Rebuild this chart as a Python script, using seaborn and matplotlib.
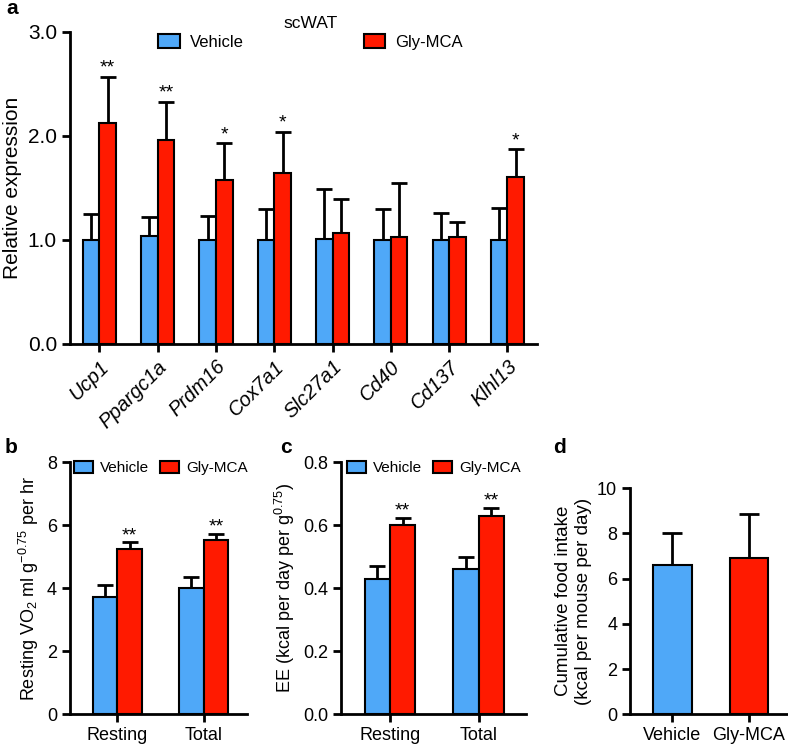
import numpy as np
import pandas as pd
import matplotlib
matplotlib.use("Agg")
import matplotlib.pyplot as plt
import seaborn as sns

# Data
genes = ["Ucp1", "Ppargc1a", "Prdm16", "Cox7a1", "Slc27a1", "Cd40", "Cd137", "Klhl13"]
groups = ["Vehicle", "Gly-MCA"]

a_vehicle = [1.0, 1.04, 1.0, 1.0, 1.01, 1.0, 1.0, 1.0]
a_vehicle_sem = [0.25, 0.18, 0.23, 0.30, 0.48, 0.30, 0.26, 0.31]
a_gly = [2.12, 1.96, 1.58, 1.64, 1.07, 1.03, 1.03, 1.60]
a_gly_sem = [0.45, 0.37, 0.35, 0.40, 0.32, 0.52, 0.14, 0.27]
a_stars = ["**", "**", "*", "*", "", "", "", "*"]

bc_labels = ["Resting", "Total"]
b_vehicle = [3.72, 4.0]
b_vehicle_sem = [0.38, 0.35]
b_gly = [5.25, 5.52]
b_gly_sem = [0.20, 0.21]
b_stars = ["**", "**"]

c_vehicle = [0.43, 0.46]
c_vehicle_sem = [0.04, 0.04]
c_gly = [0.60, 0.63]
c_gly_sem = [0.022, 0.025]
c_stars = ["**", "**"]

d_values = [6.6, 6.9]
d_sem = [1.4, 1.95]

# Style
sns.set_style("ticks")
plt.rcParams["font.family"] = ["Liberation Sans", "DejaVu Sans"]
plt.rcParams["mathtext.fontset"] = "custom"
plt.rcParams["mathtext.rm"] = "Liberation Sans"
plt.rcParams["mathtext.it"] = "Liberation Sans:italic"
for k in ["text.color", "axes.labelcolor", "xtick.color", "ytick.color", "axes.edgecolor"]:
    plt.rcParams[k] = "black"
BLUE = "#4FA8F8"
RED = "#FF1A00"
palette = {"Vehicle": BLUE, "Gly-MCA": RED}


def long_df(cats, v, g):
    return pd.DataFrame({
        "cat": list(cats) * 2,
        "group": ["Vehicle"] * len(cats) + ["Gly-MCA"] * len(cats),
        "value": list(v) + list(g),
    })


def style_ax(ax, size=13, lw=2):
    sns.despine(ax=ax)
    for s in ["left", "bottom"]:
        ax.spines[s].set_linewidth(lw)
    ax.tick_params(width=lw, length=6, direction="out", labelsize=size)


def add_err(ax, sems, stars=None, offset=0.0):
    for i, (cont, sem) in enumerate(zip(ax.containers, sems)):
        for j, (bar, e) in enumerate(zip(cont, sem)):
            x = bar.get_x() + bar.get_width() / 2
            h = bar.get_height()
            ax.errorbar(x, h, yerr=[[0], [e]], fmt="none", ecolor="black",
                        elinewidth=2, capsize=6, capthick=2, zorder=1)
            if stars is not None and i == 1 and stars[j]:
                ax.text(x, h + e + offset, stars[j], ha="center", va="bottom",
                        fontsize=14)


def small_legend(ax, x_px, y_px):
    ax.legend(ncol=2, frameon=False, loc="center left",
              bbox_to_anchor=(x_px / 788, 1 - y_px / 744), bbox_transform=fig.transFigure,
              fontsize=11, handlelength=1.25, handleheight=0.8, columnspacing=0.7,
              handletextpad=0.45, borderpad=0, borderaxespad=0)


fig = plt.figure(figsize=(7.88, 7.44), dpi=100)

# Panel a
ax_a = fig.add_axes([0.089, 0.538, 0.592, 0.419])
sns.barplot(data=long_df(genes, a_vehicle, a_gly), x="cat", y="value", hue="group",
            palette=palette, saturation=1, width=0.57, errorbar=None, edgecolor="black",
            linewidth=1.5, ax=ax_a, zorder=2)
add_err(ax_a, [a_vehicle_sem, a_gly_sem], a_stars, offset=0.0)
ax_a.set_xlim(-0.5, 7.5)
ax_a.set_ylim(0, 3.0)
ax_a.set_yticks([0, 1, 2, 3])
ax_a.set_yticklabels(["0.0", "1.0", "2.0", "3.0"])
ax_a.set_xlabel("")
ax_a.set_ylabel("Relative expression", fontsize=15)
style_ax(ax_a, size=15)
for lab in ax_a.get_xticklabels():
    lab.set_rotation(45)
    lab.set_ha("right")
    lab.set_rotation_mode("anchor")
    lab.set_style("italic")
    lab.set_fontsize(14.5)
ax_a.legend(title="scWAT", ncol=2, frameon=False, loc="upper left",
            bbox_to_anchor=(158 / 788, 1 - 16 / 744), bbox_transform=fig.transFigure,
            columnspacing=7.2, fontsize=12, title_fontsize=12.5, handlelength=1.3,
            handleheight=0.85, handletextpad=0.6, borderpad=0, borderaxespad=0,
            labelspacing=0.2)

# Panel b
ax_b = fig.add_axes([0.089, 0.040, 0.224, 0.339])
sns.barplot(data=long_df(bc_labels, b_vehicle, b_gly), x="cat", y="value", hue="group",
            palette=palette, saturation=1, width=0.57, errorbar=None, edgecolor="black",
            linewidth=1.5, ax=ax_b, zorder=2)
add_err(ax_b, [b_vehicle_sem, b_gly_sem], b_stars, offset=-0.05)
ax_b.set_xlim(-0.55, 1.5)
ax_b.set_ylim(0, 8)
ax_b.set_yticks([0, 2, 4, 6, 8])
ax_b.set_xlabel("")
ax_b.set_ylabel(r"Resting VO$_2$ ml g$^{-0.75}$ per hr", fontsize=13)
style_ax(ax_b)
small_legend(ax_b, 74, 468)

# Panel c
ax_c = fig.add_axes([0.433, 0.040, 0.234, 0.339])
sns.barplot(data=long_df(bc_labels, c_vehicle, c_gly), x="cat", y="value", hue="group",
            palette=palette, saturation=1, width=0.57, errorbar=None, edgecolor="black",
            linewidth=1.5, ax=ax_c, zorder=2)
add_err(ax_c, [c_vehicle_sem, c_gly_sem], c_stars, offset=-0.005)
ax_c.set_xlim(-0.55, 1.53)
ax_c.set_ylim(0, 0.8)
ax_c.set_yticks([0, 0.2, 0.4, 0.6, 0.8])
ax_c.set_yticklabels(["0.0", "0.2", "0.4", "0.6", "0.8"])
ax_c.set_xlabel("")
ax_c.set_ylabel(r"EE (kcal per day per g$^{0.75}$)", fontsize=13)
style_ax(ax_c)
small_legend(ax_c, 347, 468)

# Panel d
ax_d = fig.add_axes([0.800, 0.040, 0.199, 0.304])
df_d = pd.DataFrame({"group": groups, "value": d_values})
sns.barplot(data=df_d, x="group", y="value", hue="group", palette=palette, saturation=1,
            width=0.5, errorbar=None, edgecolor="black", linewidth=1.5,
            ax=ax_d, zorder=2, legend=False)
for cont, e in zip(ax_d.containers, d_sem):
    for bar in cont:
        x = bar.get_x() + bar.get_width() / 2
        ax_d.errorbar(x, bar.get_height(), yerr=[[0], [e]], fmt="none",
                      ecolor="black", elinewidth=2, capsize=7, capthick=2, zorder=1)
ax_d.set_xlim(-0.55, 1.5)
ax_d.set_ylim(0, 10)
ax_d.set_yticks([0, 2, 4, 6, 8, 10])
ax_d.set_xlabel("")
ax_d.set_ylabel("Cumulative food intake\n(kcal per mouse per day)", fontsize=13.5)
style_ax(ax_d)

# Panel letters
for letter, (x, y) in zip("abcd", [(0.008, 0.988), (0.006, 0.399), (0.355, 0.399), (0.702, 0.399)]):
    fig.text(x, y, letter, fontsize=15, fontweight="bold", va="center")

fig.savefig("out.png", dpi=100)
